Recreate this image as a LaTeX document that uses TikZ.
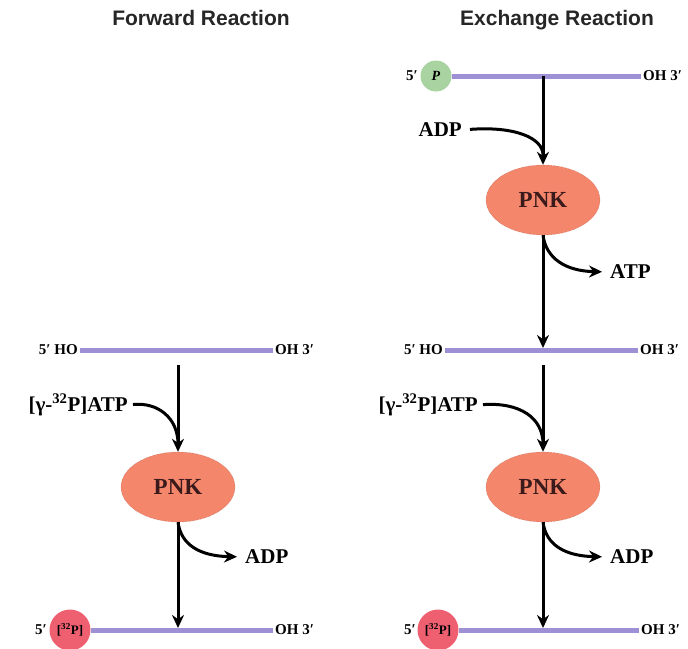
\documentclass[tikz,border=0pt]{standalone}
\usepackage{fontspec}
\setmainfont{Liberation Serif}
\newfontfamily\titlefont{Liberation Sans}
\usetikzlibrary{arrows.meta,shapes.geometric}
\definecolor{strandc}{HTML}{9E90D4}
\definecolor{pnkc}{HTML}{F4866C}
\definecolor{greenc}{HTML}{A9D4A2}
\definecolor{redc}{HTML}{EE6070}
\definecolor{pnktext}{HTML}{3A1A1A}
\tikzset{
  title/.style={font=\titlefont\bfseries\fontsize{21}{24}\selectfont, text=black!85, anchor=base},
  endlab/.style={font=\bfseries\fontsize{15}{17}\selectfont, inner sep=0pt},
  mol/.style={font=\bfseries\fontsize{21}{24}\selectfont, inner sep=0pt},
  pnk/.style={ellipse, fill=pnkc, draw=pnkc!70!black, densely dotted, thin,
    minimum width=114pt, minimum height=70pt, inner sep=0pt,
    font=\bfseries\fontsize{23}{25}\selectfont, text=pnktext},
  strand/.style={draw=strandc, line width=5pt},
  flow/.style={line width=3pt, -{Stealth[length=13pt,width=12pt]}},
  side/.style={line width=3pt},
  redball/.style={circle, fill=redc, minimum size=41pt, inner sep=0pt,
    font=\bfseries\fontsize{13}{14}\selectfont},
  greenball/.style={circle, fill=greenc, minimum size=31pt, inner sep=0pt,
    font=\bfseries\itshape\fontsize{14}{15}\selectfont},
}
\begin{document}
\begin{tikzpicture}[x=1pt,y=-1pt]
\useasboundingbox (0,0) rectangle (688,648);
% titles
\node[title] (t1) at (201,25) {Forward Reaction};
\node[title] (t2) at (557,25) {Exchange Reaction};

% ---------- left column ----------
\node[endlab, anchor=east] (l1five) at (78,350) {5′ HO};
\node[endlab, anchor=west] (l1three) at (275,350) {OH 3′};
\draw[strand, shorten <=2pt, shorten >=2pt] (l1five) -- (l1three);
\coordinate (l1drop) at (178,365);
\node[pnk] (lpnk) at (178,487) {PNK};
\draw[flow] (l1drop) -- (lpnk.north);
\node[mol, anchor=east] (latp) at (128,405) {[γ-\textsuperscript{32}P]ATP};
\coordinate (lmerge) at (178,444);
\draw[side, shorten <=5pt] (latp.east) .. controls (158,402) and (178,418) .. (lmerge);
\coordinate (lbot) at (178,628);
\draw[flow] (lpnk.south) -- (lbot);
\node[mol, anchor=west] (ladp) at (245,557) {ADP};
\draw[flow, shorten >=8pt] (lpnk.south) .. controls (181,545) and (200,556) .. (ladp.west);
\node[redball] (lred) at (70,630) {[\textsuperscript{32}P]};
\node[endlab, anchor=east] (l3five) at (47,630) {5′};
\node[endlab, anchor=west] (l3three) at (275,630) {OH 3′};
\draw[strand, shorten >=2pt] (lred) -- (l3three);

% ---------- right column ----------
\node[greenball] (rgreen) at (436,76) {P};
\node[endlab, anchor=east] (r0five) at (418,76) {5′};
\node[endlab, anchor=west] (r0three) at (643,76) {OH 3′};
\draw[strand, shorten >=2pt] (rgreen) -- (r0three);
\coordinate (r0drop) at (543,76);
\node[pnk] (rpnk1) at (543,200) {PNK};
\draw[flow] (r0drop) -- (rpnk1.north);
\node[mol, anchor=east] (radp1) at (462,130) {ADP};
\coordinate (rmerge1) at (543,155);
\draw[side, shorten <=8pt] (radp1.east) .. controls (515,126) and (543,138) .. (rmerge1);
\node[mol, anchor=west] (ratp) at (610,272) {ATP};
\draw[flow, shorten >=8pt] (rpnk1.south) .. controls (546,258) and (565,271) .. (ratp.west);

\node[endlab, anchor=east] (r1five) at (443,350) {5′ HO};
\node[endlab, anchor=west] (r1three) at (640,350) {OH 3′};
\draw[strand, shorten <=2pt, shorten >=2pt] (r1five) -- (r1three);
\coordinate (r1hit) at (543,348);
\draw[flow] (rpnk1.south) -- (r1hit);
\coordinate (r1drop) at (543,365);
\node[pnk] (rpnk2) at (543,487) {PNK};
\draw[flow] (r1drop) -- (rpnk2.north);
\node[mol, anchor=east] (ratp2) at (478,405) {[γ-\textsuperscript{32}P]ATP};
\coordinate (rmerge2) at (543,444);
\draw[side, shorten <=5pt] (ratp2.east) .. controls (520,402) and (543,418) .. (rmerge2);
\coordinate (rbot) at (543,628);
\draw[flow] (rpnk2.south) -- (rbot);
\node[mol, anchor=west] (radp2) at (610,557) {ADP};
\draw[flow, shorten >=8pt] (rpnk2.south) .. controls (546,545) and (565,556) .. (radp2.west);
\node[redball] (rred) at (438,630) {[\textsuperscript{32}P]};
\node[endlab, anchor=east] (r3five) at (416,630) {5′};
\node[endlab, anchor=west] (r3three) at (641,630) {OH 3′};
\draw[strand, shorten >=2pt] (rred) -- (r3three);
\end{tikzpicture}
\end{document}
